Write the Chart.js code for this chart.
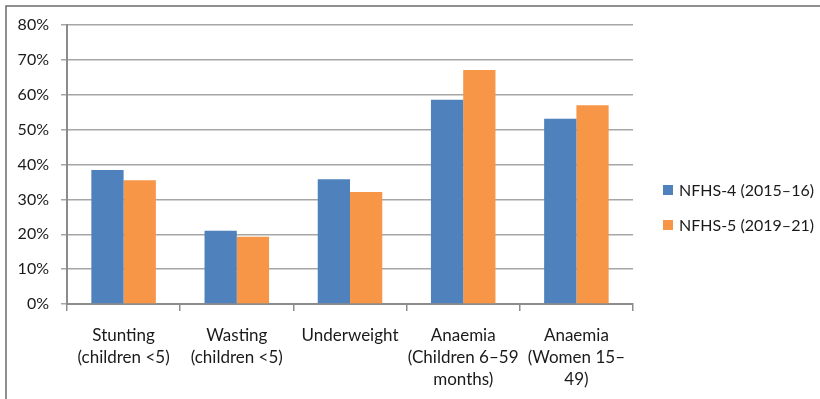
<!DOCTYPE html>
<html>
<head>
<meta charset="utf-8">
<script src="https://cdn.jsdelivr.net/npm/chart.js@4"></script>
<style>
  html, body { margin: 0; padding: 0; background: #fff; }
  #wrap { width: 820px; height: 399px; position: relative; }
</style>
</head>
<body>
<div id="wrap"><canvas id="c" width="820" height="399"></canvas></div>
<script>
// Malnutrition indicators, India: NFHS-4 vs NFHS-5 (percent)
const categories = [
  ["Stunting", "(children <5)"],
  ["Wasting", "(children <5)"],
  ["Underweight"],
  ["Anaemia", "(Children 6\u201359", "months)"],
  ["Anaemia", "(Women 15\u2013", "49)"]
];
const seriesNames = ["NFHS-4 (2015\u201316)", "NFHS-5 (2019\u201321)"];
const nfhs4 = [38.4, 21.0, 35.8, 58.6, 53.1];
const nfhs5 = [35.5, 19.3, 32.1, 67.1, 57.0];
const yTicks = [0, 10, 20, 30, 40, 50, 60, 70, 80];

const FONT = "Lato, 'Open Sans', sans-serif";
const TEXT = "#1a1a1a";
const colors = ["#4f81bd", "#f79646"];

// Outer frame and a legend placed to the right of the plot
const framePlugin = {
  id: "frameAndLegend",
  beforeDraw(chart) {
    const ctx = chart.ctx;
    ctx.save();
    ctx.fillStyle = "#fff";
    ctx.fillRect(0, 0, chart.width, chart.height);
    ctx.strokeStyle = "#6b6b6b";
    ctx.lineWidth = 1.5;
    ctx.strokeRect(6, 6, chart.width + 20, chart.height + 20);
    ctx.restore();
  },
  afterDraw(chart) {
    const ctx = chart.ctx;
    ctx.save();
    ctx.font = "16px " + FONT;
    ctx.textBaseline = "middle";
    ctx.fillStyle = TEXT;
    const x0 = 663, y0 = 190, gap = 35;
    chart.data.datasets.forEach((ds, i) => {
      const y = y0 + i * gap;
      ctx.fillStyle = ds.backgroundColor;
      ctx.fillRect(x0, y - 5, 10, 10);
      ctx.fillStyle = TEXT;
      ctx.fillText(ds.label, x0 + 16, y + 1);
    });
    ctx.restore();
  }
};

new Chart(document.getElementById("c"), {
  type: "bar",
  data: {
    labels: categories,
    datasets: [
      { label: seriesNames[0], data: nfhs4, backgroundColor: colors[0] },
      { label: seriesNames[1], data: nfhs5, backgroundColor: colors[1] }
    ]
  },
  options: {
    responsive: false,
    animation: false,
    devicePixelRatio: 1,
    layout: { padding: { top: 25, right: 187, left: 0, bottom: 0 } },
    datasets: { bar: { categoryPercentage: 0.57, barPercentage: 1.0, borderWidth: 0 } },
    plugins: {
      legend: { display: false },
      tooltip: { enabled: false }
    },
    scales: {
      x: {
        grid: {
          offset: true,
          drawOnChartArea: false,
          drawTicks: true,
          tickLength: 7,
          color: "#8c8c8c",
          lineWidth: 1.5
        },
        border: { color: "#8c8c8c", width: 2 },
        ticks: {
          font: { family: FONT, size: 17, lineHeight: 1.3 },
          color: TEXT,
          padding: 13,
          maxRotation: 0,
          autoSkip: false
        },
        afterFit(scale) { scale.height = 95; }
      },
      y: {
        min: 0,
        max: 80,
        afterBuildTicks(scale) { scale.ticks = yTicks.map(v => ({ value: v })); },
        grid: {
          color: "#a6a6a6",
          lineWidth: 1.5,
          tickLength: 6,
          drawTicks: true
        },
        border: { color: "#8c8c8c", width: 2 },
        ticks: {
          font: { family: FONT, size: 16 },
          color: TEXT,
          padding: 12,
          callback: v => v + "%"
        },
        afterFit(scale) { scale.width = 67; }
      }
    }
  },
  plugins: [framePlugin]
});
</script>
</body>
</html>
